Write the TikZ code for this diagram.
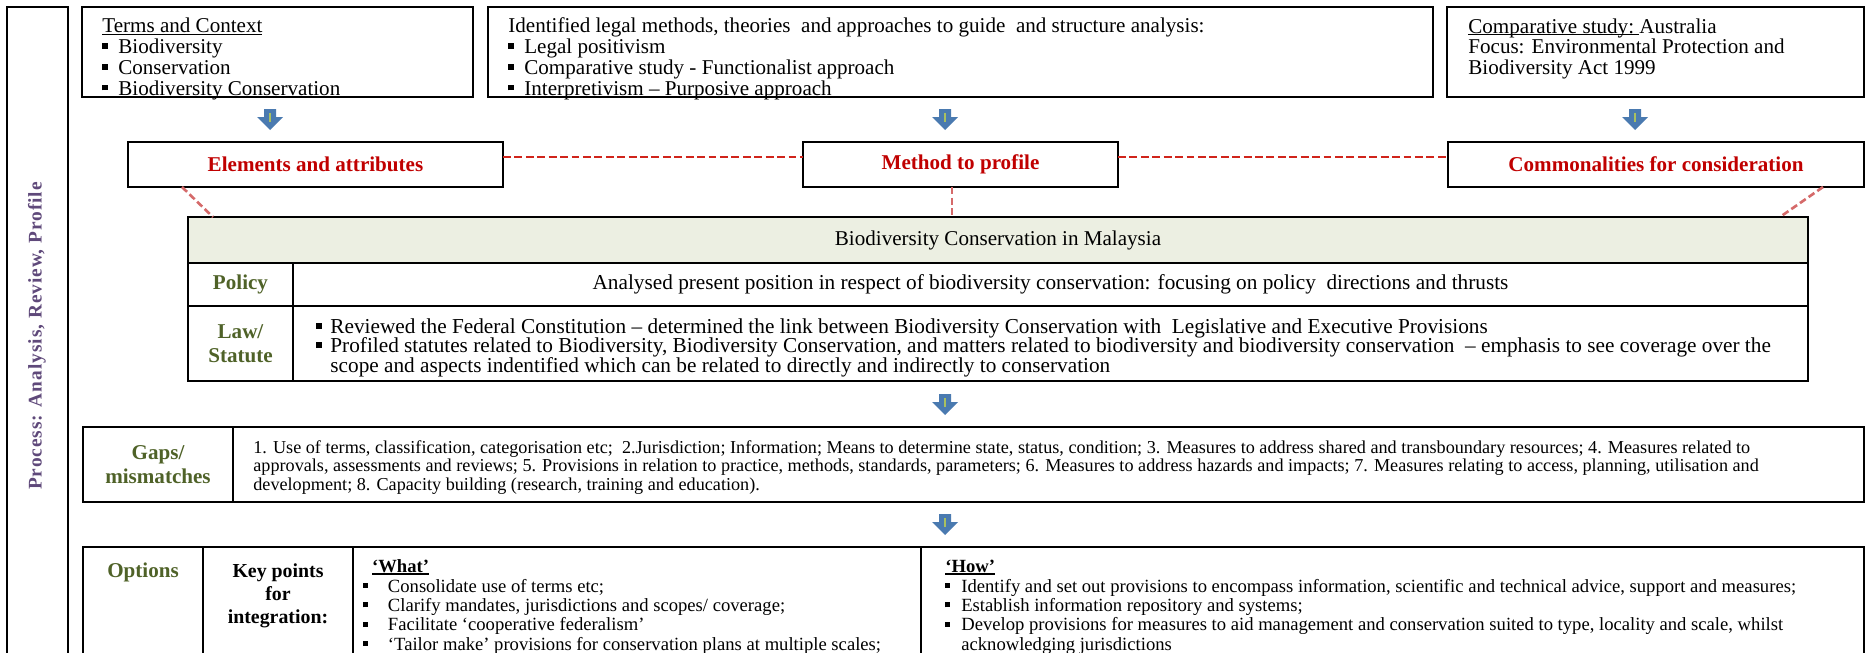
\documentclass[tikz,border=0pt]{standalone}
\usepackage{fontspec}
\setmainfont{Liberation Serif}
\usepackage{xcolor}
\usetikzlibrary{shapes,arrows,positioning,calc}

\definecolor{lblred}{HTML}{C00000}
\definecolor{olive}{HTML}{4F6228}
\definecolor{procpurple}{HTML}{5F497A}
\definecolor{arrblue}{HTML}{4A7AB0}
\definecolor{arrgreen}{HTML}{A8C060}
\definecolor{headfill}{HTML}{ECEFE2}
\definecolor{dashred}{HTML}{D0241B}
\definecolor{dashpink}{HTML}{D56A6A}

\newcommand{\sq}[1][9.1pt]{\makebox[#1][l]{\rule[0.22em]{0.27em}{0.27em}}}
\newcommand{\ulin}[1]{\setbox0\hbox{#1}\rlap{\rule[-1.4pt]{\wd0}{1pt}}\box0}
\newcommand{\topfont}{\fontsize{12}{11.8}\selectfont\lineskiplimit=-20pt}
\newcommand{\tabfont}{\fontsize{12.1}{11}\selectfont\lineskiplimit=-20pt}
\newcommand{\smfont}{\fontsize{10.35}{10.5}\selectfont\lineskiplimit=-20pt}
\newcommand{\optfont}{\fontsize{10.6}{11}\selectfont\lineskiplimit=-20pt}

\tikzset{darr/.pic={
  \fill[arrblue] (-6,0) -- (6,0) -- (6,8) -- (13,8) -- (0,21) -- (-13,8) -- (-6,8) -- cycle;
  \draw[arrgreen, line width=1.1pt] (0,4) -- (0,13);
}}

\begin{document}
\begin{tikzpicture}[x=0.02cm,y=-0.02cm,
  box/.style={draw, line width=1.4pt, inner sep=0pt, outer sep=0pt, anchor=north west},
  wh/.style 2 args={minimum width=#1*0.02cm, minimum height=#2*0.02cm},
  lbl/.style={font=\fontsize{12}{13.5}\selectfont\bfseries, text=olive, align=center},
  redlbl/.style={font=\fontsize{12}{14}\selectfont\bfseries, text=lblred},
  txt/.style={inner sep=0pt, align=left, anchor=base west},
  link/.style={dashpink, line width=1.5pt, dash pattern=on 4pt off 2pt},
  hlink/.style={dashred, line width=1.1pt, dash pattern=on 4.5pt off 2pt}]
\useasboundingbox (0,0) rectangle (1868,652);
\clip (0,0) rectangle (1868,652);

% process frame
\node[box, wh={61}{720}] (P) at (7,7) {};
\node[rotate=90, text=procpurple, font=\fontsize{11}{12}\selectfont\bfseries\addfontfeature{LetterSpace=5}] (Pt) at (37,336) {Process: Analysis, Review, Profile};

% top row (text nodes sit on the baseline of their last line)
\node[box, wh={391}{90}] (B1) at (82,7) {};
\node[box, wh={945}{90}] (B2) at (488,7) {};
\node[box, wh={417}{90}] (B3) at (1447,7) {};
\node[txt, font=\topfont] (B1t) at (102,95) {\ulin{Terms and Context}\\ \sq Biodiversity\\ \sq Conservation\\ \sq Biodiversity Conservation};
\node[txt, font=\topfont] (B2t) at (508,95) {Identified legal methods, theories\ \ and approaches to guide\ \ and structure analysis:\\ \sq Legal positivism\\ \sq Comparative study - Functionalist approach\\ \sq Interpretivism – Purposive approach};
\node[txt, font=\topfont] (B3t) at (1468,74.5) {\ulin{Comparative study:\ }Australia\\ Focus: Environmental Protection and\\ Biodiversity Act 1999};

\foreach \x in {270,945,1635} \pic at (\x,109) {darr};

% middle row
\node[box, wh={375}{45}, redlbl] (M1) at (128,142) {Elements and attributes};
\node[box, wh={315}{45}, redlbl] (M2) at (803,142) {Method to profile};
\node[box, wh={416}{45}, redlbl] (M3) at (1448,142) {Commonalities for consideration};

% table
\node[box, wh={1620}{46}, fill=headfill, font=\fontsize{12}{13}\selectfont] (T0) at (188,217) {Biodiversity Conservation in Malaysia};
\node[box, wh={105}{43}, lbl] (T1) at (188,263) {Policy};
\node[box, wh={1515}{43}, font=\tabfont] (T2) at (293,263) {Analysed present position in respect of biodiversity conservation: focusing on policy\ \ directions and thrusts};
\node[box, wh={105}{75}, lbl] (T3) at (188,306) {Law/\\Statute};
\node[box, wh={1515}{75}] (T4) at (293,306) {};
\node[txt, font=\tabfont] (T4t) at (316,372) {\sq[8pt]Reviewed the Federal Constitution – determined the link between Biodiversity Conservation with\ \ Legislative and Executive Provisions\\ \sq[8pt]Profiled statutes related to Biodiversity, Biodiversity Conservation, and matters related to biodiversity and biodiversity conservation\ \ – emphasis to see coverage over the\\ \hspace*{8pt}scope and aspects indentified which can be related to directly and indirectly to conservation};

\draw[hlink] ([yshift=4.3pt]M1.east) -- ([yshift=4.3pt]M2.west);
\draw[hlink] ([yshift=4.3pt]M2.east) -- ([yshift=4.3pt]M3.west);
\draw[link] ([xshift=-4.8pt]M2.south) -- ([xshift=-4.8pt]M2.south |- T0.north);
\draw[link] ($(M1.south west)+(54,0)$) -- ($(T0.north west)+(25,0)$);
\draw[link] ($(M3.south east)+(-41,0)$) -- ($(T0.north east)+(-28,0)$);

\pic at (945,394) {darr};

% gaps
\node[box, wh={150}{75}, lbl] (G1) at (83,427) {Gaps/\\mismatches};
\node[box, wh={1631}{75}] (G2) at (233,427) {};
\node[txt, font=\smfont] (G2t) at (253,490) {1. Use of terms, classification, categorisation etc;\ \ 2.Jurisdiction; Information; Means to determine state, status, condition; 3. Measures to address shared and transboundary resources; 4. Measures related to\\ approvals, assessments and reviews; 5. Provisions in relation to practice, methods, standards, parameters; 6. Measures to address hazards and impacts; 7. Measures relating to access, planning, utilisation and\\ development; 8. Capacity building (research, training and education).};

\pic at (945,514) {darr};

% options
\node[box, wh={120}{130}] (O1) at (83,547) {};
\node[box, wh={150}{130}] (O2) at (203,547) {};
\node[box, wh={568}{130}] (O3) at (353,547) {};
\node[box, wh={943}{130}] (O4) at (921,547) {};
\node[lbl, anchor=base] (O1t) at (143,577) {Options};
\node[anchor=base, align=center, inner sep=0pt, font=\fontsize{11.3}{13}\selectfont\bfseries] (O2t) at (278,623) {Key points\\for\\integration:};
\node[txt, font=\optfont] (O3t) at (363,650) {\hspace*{5pt}\ulin{\bfseries ‘What’}\\ \sq[14pt]Consolidate use of terms etc;\\ \sq[14pt]Clarify mandates, jurisdictions and scopes/ coverage;\\ \sq[14pt]Facilitate ‘cooperative federalism’\\ \sq[14pt]‘Tailor make’ provisions for conservation plans at multiple scales;};
\node[txt, font=\optfont] (O4t) at (945,650) {\ulin{\bfseries ‘How’}\\ \sq Identify and set out provisions to encompass information, scientific and technical advice, support and measures;\\ \sq Establish information repository and systems;\\ \sq Develop provisions for measures to aid management and conservation suited to type, locality and scale, whilst\\ \hspace*{9.1pt}acknowledging jurisdictions};
\end{tikzpicture}
\end{document}
